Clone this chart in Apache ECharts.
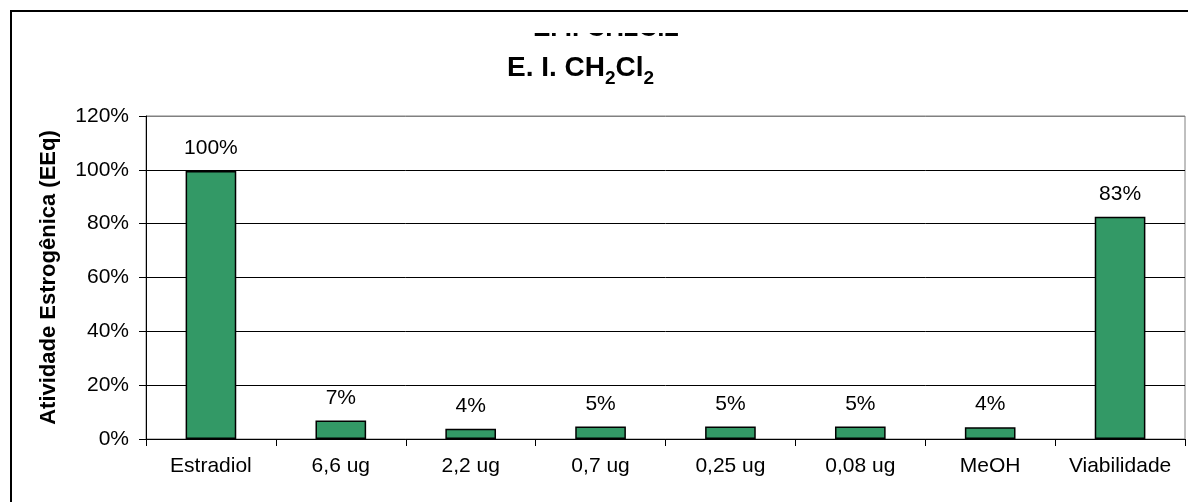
<!DOCTYPE html>
<html>
<head>
<meta charset="utf-8">
<script src="https://cdn.jsdelivr.net/npm/echarts@6/dist/echarts.min.js"></script>
<style>html,body{margin:0;padding:0;background:#fff}#c{width:1188px;height:502px}</style>
</head>
<body>
<div id="c"></div>
<script>
var categories = ['Estradiol', '6,6 ug', '2,2 ug', '0,7 ug', '0,25 ug', '0,08 ug', 'MeOH', 'Viabilidade'];
var values = [99.6, 6.9, 3.8, 4.6, 4.6, 4.6, 4.4, 82.6];
var yTicks = [0, 20, 40, 60, 80, 100, 120];
var yAxisTitle = 'Atividade Estrogênica (EEq)';
var FONT = '"Liberation Sans", Arial, sans-serif';

var chart = echarts.init(document.getElementById('c'), null, {renderer: 'canvas'});
chart.setOption({
  animation: false,
  backgroundColor: '#fff',
  textStyle: {fontFamily: FONT},
  title: {
    left: 502, top: 43,
    text: '{a|E. I. CH}{s|2}{a|Cl}{s|2}',
    textStyle: {
      rich: {
        a: {fontFamily: FONT, fontWeight: 'bold', fontSize: 28, color: '#000', verticalAlign: 'bottom', lineHeight: 34},
        s: {fontFamily: FONT, fontWeight: 'bold', fontSize: 19, color: '#000', verticalAlign: 'bottom', lineHeight: 26, padding: [0, 0, -6, 0]}
      }
    }
  },
  graphic: [
    {type: 'text', left: 533, top: 16, z: 10,
     style: {text: 'E. I. CH2Cl2', font: 'bold 26px ' + FONT, fill: '#000'}},
    {type: 'rect', shape: {x: 500, y: 13, width: 220, height: 20}, z: 11,
     style: {fill: '#fff'}},
    {type: 'rect', shape: {x: 11, y: 11, width: 1300, height: 700}, z: 20, silent: true,
     style: {fill: 'none', stroke: '#000', lineWidth: 2}}
  ],
  grid: {left: 146, right: 3, top: 116, bottom: 63, show: true, borderColor: '#808080', borderWidth: 1, backgroundColor: 'transparent'},
  xAxis: {
    type: 'category',
    data: categories,
    axisLine: {lineStyle: {color: '#000', width: 1}},
    axisTick: {show: true, length: 7, interval: 0, lineStyle: {color: '#000'}},
    axisLabel: {color: '#000', fontSize: 21, fontFamily: FONT, margin: 17, interval: 0}
  },
  yAxis: {
    type: 'value',
    min: yTicks[0], max: yTicks[yTicks.length - 1], interval: 20,
    name: yAxisTitle,
    nameLocation: 'middle',
    nameGap: 86,
    nameTextStyle: {color: '#000', fontSize: 22, fontWeight: 'bold', fontFamily: FONT},
    axisLine: {show: true, lineStyle: {color: '#000', width: 1}},
    axisTick: {show: true, length: 7, lineStyle: {color: '#000'}},
    axisLabel: {color: '#000', fontSize: 21, fontFamily: FONT, margin: 17, formatter: '{value}%'},
    splitLine: {show: true, lineStyle: {color: ['#000', '#000', '#000', '#000', '#000', '#000', '#808080'], width: 1}}
  },
  series: [{
    type: 'bar',
    data: values,
    barWidth: '39%',
    itemStyle: {color: '#339966', borderColor: '#000', borderWidth: 1.5},
    label: {
      show: true, position: 'top', distance: 12,
      color: '#000', fontSize: 21, fontFamily: FONT,
      formatter: function (p) { return Math.round(p.value) + '%'; }
    }
  }]
});
</script>
</body>
</html>
